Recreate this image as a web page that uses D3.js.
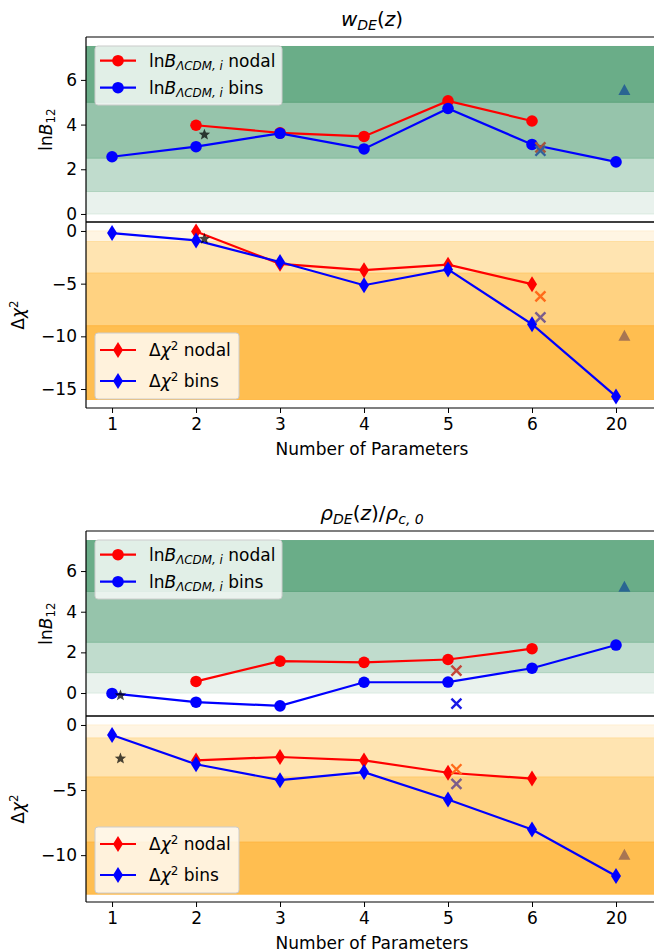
<!DOCTYPE html>
<html><head><meta charset="utf-8">
<script src="https://cdn.jsdelivr.net/npm/d3@7"></script>
<style>body{margin:0;background:#fff} text{font-family:"DejaVu Sans",sans-serif;fill:#000}</style>
</head><body><svg id="c" width="654" height="952"></svg>
<script>
// ---------- data ----------
const categories = ["1","2","3","4","5","6","20"];
const yTicksLnB = [0,2,4,6];
const yTicksChi2W = [0,-5,-10,-15];
const yTicksChi2R = [0,-5,-10];

const wLnBNodal = [null, 3.97, 3.63, 3.47, 5.06, 4.16, null];
const wLnBBins  = [2.56, 3.01, 3.61, 2.91, 4.72, 3.11, 2.33];
const wChi2Nodal = [null, -0.05, -3.12, -3.72, -3.2, -5.05, null];
const wChi2Bins  = [-0.2, -0.9, -2.95, -5.15, -3.65, -8.85, -15.7];

const rLnBNodal = [null, 0.57, 1.57, 1.51, 1.65, 2.18, null];
const rLnBBins  = [-0.02, -0.45, -0.63, 0.53, 0.54, 1.22, 2.36];
const rChi2Nodal = [null, -2.72, -2.46, -2.72, -3.67, -4.12, null];
const rChi2Bins  = [-0.77, -3.02, -4.24, -3.62, -5.72, -8.03, -11.6];

// extra single markers: [type, category position, value]
const wLnBExtra  = [["star",1.1,3.55],["xn",5.1,2.98],["xb",5.1,2.83],["tri",6.1,5.52]];
const wChi2Extra = [["star",1.1,-0.75],["xn",5.1,-6.2],["xb",5.1,-8.2],["tri",6.1,-10.0]];
const rLnBExtra  = [["star",0.1,-0.12],["xn",4.1,1.1],["xb",4.1,-0.52],["tri",6.1,5.2]];
const rChi2Extra = [["star",0.1,-2.58],["xn",4.1,-3.4],["xb",4.1,-4.52],["tri",6.1,-10.0]];

const lnBBands = [[0,1],[1,2.5],[2.5,5],[5,7.5]];
const chi2BandsW = [[0,-1],[-1,-4],[-4,-9],[-9,-16]];
const chi2BandsR = [[0,-1],[-1,-4],[-4,-9],[-9,-13]];

// ---------- styles ----------
const greens = ["#e9f2ed","#c0dccd","#96c4ab","#6aad88"];
const greenEdges = ["#d5e7dc","#a9cfba","#7fb899","#5aa27a"];
const oranges = ["#fff5e3","#ffe4b1","#ffd281","#ffbe50"];
const orangeEdges = ["#ffeccc","#ffdb98","#ffc766","#ffb43a"];
const extraColorsLnB1 = {star:"#000", xn:"#a4553c", xb:"#33609a", tri:"#2a6592"};
const extraColorsLnB2 = {star:"#000", xn:"#c4463a", xb:"#1a1ae6", tri:"#2a6592"};
const extraColorsChi2 = {star:"#000", xn:"#ff6b1a", xb:"#7b5d8c", tri:"#a87552"};

const svg = d3.select("#c");
const x = d3.scaleLinear().domain([-0.31, 6.5]).range([86, 658]);
const FS = 17;

const panels = [
  {top:37, bottom:222, dom:[-0.36,7.92], ticks:yTicksLnB, bands:lnBBands, fills:greens, edges:greenEdges,
   nodal:wLnBNodal, bins:wLnBBins, extra:wLnBExtra, ec:extraColorsLnB1, kind:"lnB", legendTop:true, xlab:false},
  {top:222, bottom:408, dom:[-16.8,0.85], ticks:yTicksChi2W, bands:chi2BandsW, fills:oranges, edges:orangeEdges,
   nodal:wChi2Nodal, bins:wChi2Bins, extra:wChi2Extra, ec:extraColorsChi2, kind:"chi2", legendTop:false, xlab:true},
  {top:531, bottom:716, dom:[-1.13,7.97], ticks:yTicksLnB, bands:lnBBands, fills:greens, edges:greenEdges,
   nodal:rLnBNodal, bins:rLnBBins, extra:rLnBExtra, ec:extraColorsLnB2, kind:"lnB", legendTop:true, xlab:false},
  {top:716, bottom:902, dom:[-13.6,0.69], ticks:yTicksChi2R, bands:chi2BandsR, fills:oranges, edges:orangeEdges,
   nodal:rChi2Nodal, bins:rChi2Bins, extra:rChi2Extra, ec:extraColorsChi2, kind:"chi2", legendTop:false, xlab:true}
];

function diamondPath(){ return "M0,-8L5,0L0,8L-5,0Z"; }
function xPath(){ return "M-5,-5L5,5M-5,5L5,-5"; }
function starPath(R,r){
  let p=[];
  for(let i=0;i<10;i++){const a=-Math.PI/2+i*Math.PI/5; const rr=i%2?r:R; p.push([rr*Math.cos(a),rr*Math.sin(a)]);}
  return "M"+p.map(d=>d.join(",")).join("L")+"Z";
}
function triPath(){ return "M0,-6.5L6,4.5L-6,4.5Z"; }

function addMath(t, parts){
  parts.forEach(([s,st])=>{
    const ts=t.append("tspan").text(s);
    if(st==="i"||st==="subi") ts.attr("font-style","italic");
    if(st==="sub"||st==="subi"){ ts.attr("font-size","0.7em").attr("dy","0.25em"); }
    if(st==="sup"){ ts.attr("font-size","0.7em").attr("dy","-0.5em"); }
    if(st==="n_after_sub") ts.attr("dy","-0.175em");
    if(st==="n_after_sup") ts.attr("dy","0.35em");
  });
}

panels.forEach((p,pi)=>{
  const y = d3.scaleLinear().domain(p.dom).range([p.bottom,p.top]);
  const g = svg.append("g");
  const cid="clip"+pi;
  svg.append("clipPath").attr("id",cid).append("rect").attr("x",86).attr("y",p.top).attr("width",572).attr("height",p.bottom-p.top);
  const pg = g.append("g").attr("clip-path",`url(#${cid})`);
  p.bands.forEach((b,i)=>{
    const y0=y(Math.max(b[0],b[1])), y1=y(Math.min(b[0],b[1]));
    pg.append("rect").attr("x",86).attr("width",572).attr("y",y0).attr("height",y1-y0)
      .attr("fill",p.fills[i]).attr("stroke",p.edges[i]).attr("stroke-width",0.8);
  });
  const line = d3.line().x(d=>x(d[0])).y(d=>y(d[1]));
  const series=[[p.nodal,"#ff0000"],[p.bins,"#0000ff"]];
  series.forEach(([vals,col])=>{
    const pts=vals.map((v,i)=>[i,v]).filter(d=>d[1]!==null);
    pg.append("path").attr("d",line(pts)).attr("fill","none").attr("stroke",col).attr("stroke-width",2.2);
    pts.forEach(d=>{
      if(p.kind==="lnB") pg.append("circle").attr("cx",x(d[0])).attr("cy",y(d[1])).attr("r",5.8).attr("fill",col);
      else pg.append("path").attr("d",diamondPath()).attr("transform",`translate(${x(d[0])},${y(d[1])})`).attr("fill",col);
    });
  });
  p.extra.forEach(([t,xv,yv])=>{
    const tr=`translate(${x(xv)},${y(yv)})`;
    const c=p.ec[t];
    if(t==="star") pg.append("path").attr("d",starPath(6,2.6)).attr("transform",tr).attr("fill",c).attr("fill-opacity",0.72);
    else if(t==="tri") pg.append("path").attr("d",triPath()).attr("transform",tr).attr("fill",c);
    else pg.append("path").attr("d",xPath()).attr("transform",tr).attr("stroke",c).attr("stroke-width",2.4).attr("fill","none");
  });
  g.append("line").attr("x1",86).attr("x2",660).attr("y1",p.top).attr("y2",p.top).attr("stroke","#000").attr("stroke-width",1.2);
  g.append("line").attr("x1",86).attr("x2",660).attr("y1",p.bottom).attr("y2",p.bottom).attr("stroke","#000").attr("stroke-width",1.2);
  g.append("line").attr("x1",86).attr("x2",86).attr("y1",p.top).attr("y2",p.bottom).attr("stroke","#000").attr("stroke-width",1.2);
  const ya=d3.axisLeft(y).tickValues(p.ticks).tickSize(5).tickPadding(4).tickFormat(d=>d<0?"\u2212"+Math.abs(d):d);
  const yg=g.append("g").attr("transform","translate(86,0)").call(ya);
  yg.select(".domain").remove();
  yg.selectAll("text").attr("font-size",FS).attr("font-family","DejaVu Sans");
  yg.selectAll("line").attr("stroke","#000").attr("stroke-width",1);
  if(p.xlab){
    const xa=d3.axisBottom(x).tickValues(d3.range(categories.length)).tickSize(5).tickPadding(5).tickFormat(i=>categories[i]);
    const xg=g.append("g").attr("transform",`translate(0,${p.bottom})`).call(xa);
    xg.select(".domain").remove();
    xg.selectAll("text").attr("font-size",FS).attr("font-family","DejaVu Sans");
    g.append("text").attr("x",372).attr("y",p.bottom+47).attr("text-anchor","middle").attr("font-size",FS).text("Number of Parameters");
  }
  const cy=(p.top+p.bottom)/2;
  if(p.kind==="lnB"){
    const t=g.append("text").attr("transform",`translate(52,${cy}) rotate(-90)`).attr("text-anchor","middle").attr("font-size",FS);
    addMath(t,[["ln","n"],["B","i"],["12","sub"]]);
  } else {
    const t=g.append("text").attr("transform",`translate(24,${cy}) rotate(-90)`).attr("text-anchor","middle").attr("font-size",FS);
    addMath(t,[["Δ","n"],["χ","i"],["2","sup"]]);
  }
  const lg=g.append("g");
  const bx=95, bw = p.kind==="lnB"?187:144, bh = p.kind==="lnB"?59:66;
  const by = p.legendTop ? p.top+9 : p.bottom-9-bh;
  lg.append("rect").attr("x",bx).attr("y",by).attr("width",bw).attr("height",bh).attr("rx",3)
    .attr("fill","#fff").attr("fill-opacity",0.8).attr("stroke","#cccccc").attr("stroke-width",1);
  const rows = p.kind==="lnB" ? [14.7,41.7] : [17,48];
  const labels = ["nodal","bins"];
  [["#ff0000",0],["#0000ff",1]].forEach(([col,i])=>{
    const ry=by+rows[i];
    lg.append("line").attr("x1",100).attr("x2",136).attr("y1",ry).attr("y2",ry).attr("stroke",col).attr("stroke-width",2.2);
    if(p.kind==="lnB") lg.append("circle").attr("cx",118).attr("cy",ry).attr("r",5.8).attr("fill",col);
    else lg.append("path").attr("d",diamondPath()).attr("transform",`translate(118,${ry})`).attr("fill",col);
    const t=lg.append("text").attr("x",149).attr("y",ry+6).attr("font-size",FS);
    if(p.kind==="lnB") addMath(t,[["ln","n"],["B","i"],["ΛCDM, i","subi"],[" "+labels[i],"n_after_sub"]]);
    else addMath(t,[["Δ","n"],["χ","i"],["2","sup"],[" "+labels[i],"n_after_sup"]]);
  });
});

const t1=svg.append("text").attr("x",372).attr("y",26).attr("text-anchor","middle").attr("font-size",20);
addMath(t1,[["w","i"],["DE","subi"],["(","n_after_sub"],["z","i"],[")","n"]]);
const t2=svg.append("text").attr("x",372).attr("y",520).attr("text-anchor","middle").attr("font-size",20);
addMath(t2,[["ρ","i"],["DE","subi"],["(","n_after_sub"],["z","i"],[")/","n"],["ρ","i"],["c, 0","subi"]]);
</script></body></html>
